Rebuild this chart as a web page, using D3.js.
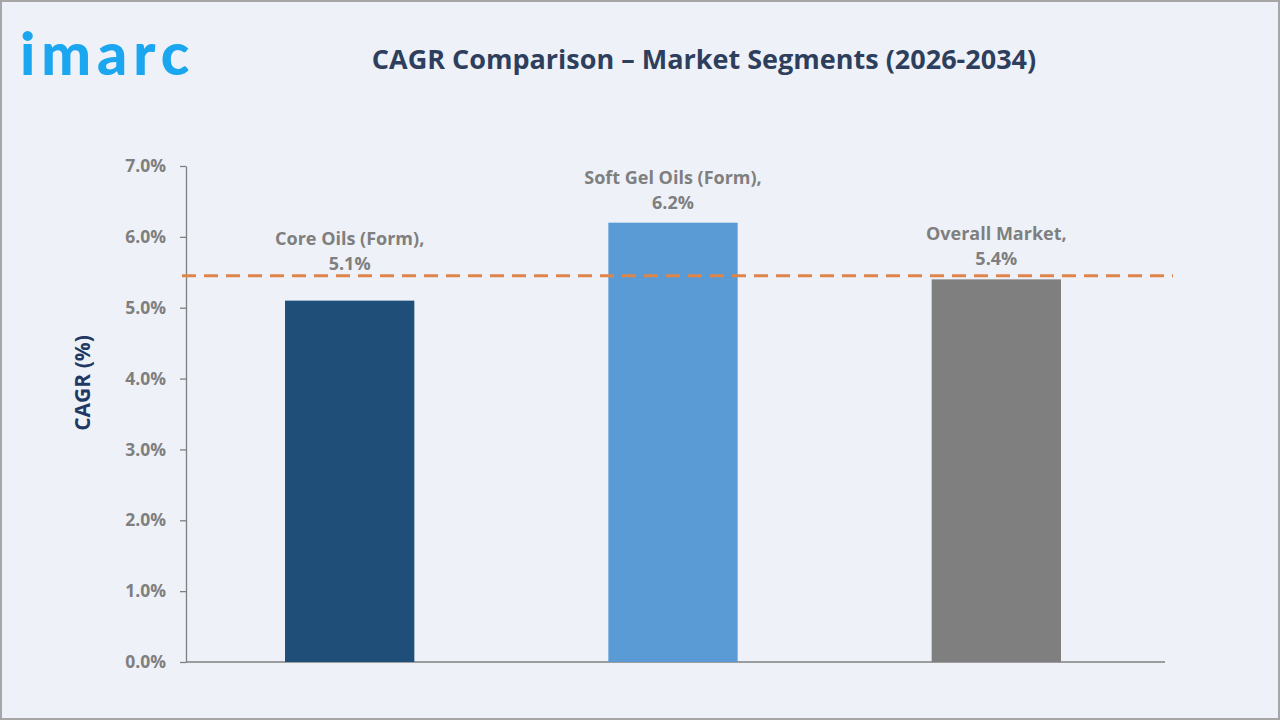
<!doctype html>
<html>
  <head>
    <meta charset="utf-8">
    <title>CAGR Comparison</title>
    <script src="https://d3js.org/d3.v7.min.js"></script>
    <style type="text/css">
      html, body { margin: 0; padding: 0; background: #eef2f8; }
      svg { display: block; }
      text { font-family: "Open Sans", "DejaVu Sans", sans-serif; }
    </style>
  </head>
  <body>
    <svg></svg>
    <script type="text/javascript">
      // chart data
      var categories = ['Core Oils (Form)', 'Soft Gel Oils (Form)', 'Overall Market'];
      var cagrValues = [5.1, 6.2, 5.4];
      var barColors = ['#1f4e79', '#5b9bd5', '#7f7f7f'];
      var yTicks = [0, 1, 2, 3, 4, 5, 6, 7];
      var referenceLine = 5.45;

      var w = 1280,
        h = 720;

      var svg = d3.select('svg')
        .attr('width', w)
        .attr('height', h);

      // background + frame
      svg.append('rect')
        .attr('x', 1).attr('y', 1)
        .attr('width', w - 2).attr('height', h - 2)
        .attr('fill', '#eef2f8')
        .attr('stroke', '#a6a6a6')
        .attr('stroke-width', 2);

      // logo
      svg.append('text')
        .attr('x', 20)
        .attr('y', 75)
        .attr('fill', '#1ba6f0')
        .style('font-family', 'Lato, sans-serif')
        .style('font-weight', '900')
        .style('font-size', '59px')
        .style('letter-spacing', '6px')
        .text('imarc');

      // title
      svg.append('text')
        .attr('x', 704)
        .attr('y', 69)
        .attr('text-anchor', 'middle')
        .attr('fill', '#2e3f5e')
        .style('font-weight', 'bold')
        .style('font-size', '27px')
        .text('CAGR Comparison \u2013 Market Segments (2026-2034)');

      var plotL = 186, plotR = 1165, plotT = 166, plotB = 662;

      var xScale = d3.scaleBand()
        .domain(categories)
        .range([188, 1158])
        .paddingInner(0.6)
        .paddingOuter(0.3);

      var yScale = d3.scaleLinear()
        .domain([0, 7])
        .range([plotB, plotT]);

      // y axis
      var yAxis = d3.axisLeft(yScale)
        .tickValues(yTicks)
        .tickSize(6)
        .tickSizeOuter(0)
        .tickPadding(14)
        .tickFormat(function(d) { return d.toFixed(1) + '%'; });

      var gy = svg.append('g')
        .attr('transform', 'translate(' + plotL + ',0)')
        .call(yAxis);
      gy.select('.domain').attr('stroke', '#7f7f7f').attr('stroke-width', 1.3);
      gy.selectAll('.tick line').attr('stroke', '#7f7f7f').attr('stroke-width', 1.3);
      gy.selectAll('.tick text')
        .attr('fill', '#7f7f7f')
        .style('font-family', '"Open Sans", sans-serif')
        .style('font-size', '17.5px')
        .style('font-weight', 'bold');

      // x axis baseline
      svg.append('line')
        .attr('x1', plotL).attr('x2', plotR)
        .attr('y1', yScale(0)).attr('y2', yScale(0))
        .attr('stroke', '#7f7f7f')
        .attr('stroke-width', 1.3);

      // bars
      svg.selectAll('rect.bar')
        .data(cagrValues)
        .enter()
        .append('rect')
        .attr('class', 'bar')
        .attr('x', function(d, i) { return xScale(categories[i]); })
        .attr('y', function(d) { return yScale(d); })
        .attr('width', xScale.bandwidth())
        .attr('height', function(d) { return plotB - yScale(d); })
        .attr('fill', function(d, i) { return barColors[i]; });

      // reference line
      var refY = yScale(referenceLine);
      svg.append('line')
        .attr('x1', plotL - 4)
        .attr('x2', plotR + 8)
        .attr('y1', refY)
        .attr('y2', refY)
        .attr('stroke', '#e0854a')
        .attr('stroke-width', 3)
        .attr('stroke-dasharray', '14,8');

      // labels, pushed above the dashed line when they would hit it
      function valueBaseline(d) {
        return Math.min(yScale(d) - 14, refY - 6);
      }
      var labels = svg.selectAll('text.lbl')
        .data(cagrValues)
        .enter()
        .append('text')
        .attr('class', 'lbl')
        .attr('text-anchor', 'middle')
        .attr('fill', '#7f7f7f')
        .style('font-size', '18px')
        .style('font-weight', 'bold');
      labels.append('tspan')
        .attr('x', function(d, i) { return xScale(categories[i]) + xScale.bandwidth() / 2; })
        .attr('y', function(d) { return valueBaseline(d) - 25; })
        .text(function(d, i) { return categories[i] + ','; });
      labels.append('tspan')
        .attr('x', function(d, i) { return xScale(categories[i]) + xScale.bandwidth() / 2; })
        .attr('y', function(d) { return valueBaseline(d); })
        .text(function(d) { return d.toFixed(1) + '%'; });

      // y axis title
      svg.append('text')
        .attr('transform', 'translate(90,' + ((plotT + plotB) / 2 - 31) + ') rotate(-90)')
        .attr('text-anchor', 'middle')
        .attr('fill', '#1f3864')
        .style('font-size', '21px')
        .style('font-weight', 'bold')
        .text('CAGR (%)');
    </script>
  </body>
</html>
